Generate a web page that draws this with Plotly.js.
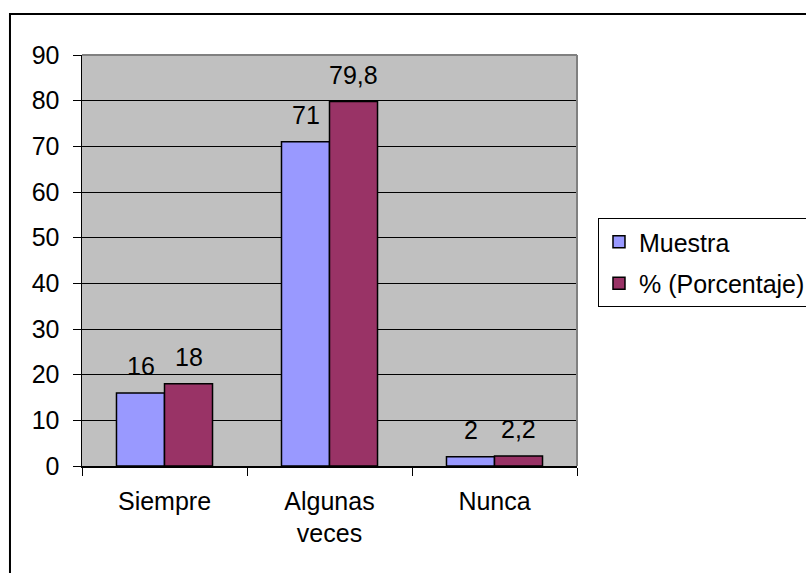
<!DOCTYPE html>
<html>
<head>
<meta charset="utf-8">
<script src="https://cdn.plot.ly/plotly-3.0.1.min.js"></script>
<style>html,body{margin:0;padding:0;background:#fff;}#chart{width:806px;height:573px;}</style>
</head>
<body>
<div id="chart"></div>
<script>
const categories = ['Siempre', 'Algunas<br>veces', 'Nunca'];
const seriesNames = ['Muestra', '% (Porcentaje)'];
const muestra = [16, 71, 2];
const porcentaje = [18, 79.8, 2.2];
const yTicks = [0, 10, 20, 30, 40, 50, 60, 70, 80, 90];

const FONT = 'Liberation Sans, Arial, sans-serif';
const FS = 25;
const fmt = v => String(v).replace('.', ',');

const traces = [
  {type: 'bar', name: seriesNames[0], x: categories, y: muestra, legendgroup: 'a',
   marker: {color: '#9999FF', line: {color: '#000', width: 1.5}}, hoverinfo: 'none'},
  {type: 'bar', name: seriesNames[1], x: categories, y: porcentaje, legendgroup: 'b',
   marker: {color: '#993366', line: {color: '#000', width: 1.5}}, hoverinfo: 'none'}
];

const annotations = [];
[[muestra, -24], [porcentaje, 24]].forEach(([vals, dx]) => {
  vals.forEach((v, i) => {
    annotations.push({x: categories[i], y: v, xref: 'x', yref: 'y', text: fmt(v),
      showarrow: false, xshift: dx, yanchor: 'bottom', yshift: 11,
      font: {family: FONT, size: FS, color: '#000'}});
  });
});

const layout = {
  width: 806, height: 573,
  margin: {l: 82, r: 229, t: 55, b: 107, autoexpand: false},
  paper_bgcolor: '#fff', plot_bgcolor: '#C0C0C0',
  font: {family: FONT, size: FS, color: '#000'},
  barmode: 'group', bargap: 0.418, bargroupgap: 0,
  showlegend: true,
  legend: {x: 1.0424, xanchor: 'left', y: 0.6034, yanchor: 'top',
    bordercolor: '#000', borderwidth: 1, bgcolor: '#fff',
    font: {family: FONT, size: FS, color: '#000'},
    traceorder: 'grouped', tracegroupgap: 6},
  xaxis: {type: 'category', showline: true, linecolor: '#000', linewidth: 1.5,
    ticks: 'outside', tickson: 'boundaries', ticklen: 8, tickcolor: '#000', tickwidth: 1,
    ticklabelstandoff: 12,
    showgrid: false, tickfont: {family: FONT, size: FS, color: '#000'}, fixedrange: true},
  yaxis: {range: [0, 90], tickvals: yTicks, ticktext: yTicks.map(String),
    showline: true, linecolor: '#000', linewidth: 1.5,
    ticks: 'outside', ticklen: 8, tickcolor: '#000', tickwidth: 1,
    showgrid: true, gridcolor: '#000', gridwidth: 1, zeroline: false,
    ticklabelstandoff: 8,
    tickfont: {family: FONT, size: FS, color: '#000'}, fixedrange: true},
  annotations: annotations,
  shapes: [
    {type: 'line', xref: 'paper', yref: 'paper', x0: 0, x1: 1, y0: 1, y1: 1, line: {color: '#808080', width: 2}},
    {type: 'line', xref: 'paper', yref: 'paper', x0: 1, x1: 1, y0: 0, y1: 1, line: {color: '#808080', width: 2}},
    {type: 'rect', xref: 'paper', yref: 'paper', x0: -0.1455, x1: 1.5, y0: -0.3, y1: 1.1, line: {color: '#000', width: 2}, fillcolor: 'rgba(0,0,0,0)'}
  ]
};

Plotly.newPlot('chart', traces, layout, {displayModeBar: false, staticPlot: true});
</script>
</body>
</html>
